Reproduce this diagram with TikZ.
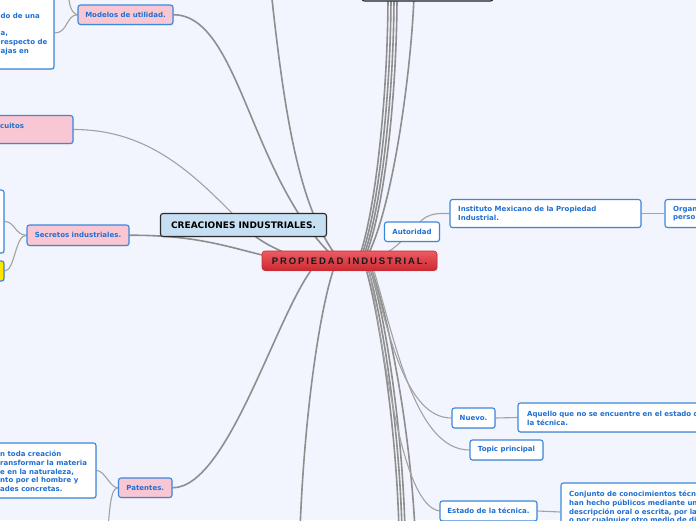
\documentclass[tikz,border=0pt]{standalone}
\usepackage{fontspec}
\newfontfamily\dvsans{DejaVu Sans}
\newfontfamily\propfont{Liberation Sans}[LetterSpace=20]
\usetikzlibrary{shadows}
\definecolor{bgc}{HTML}{F2F5FE}
\definecolor{btext}{HTML}{1F6FD2}
\definecolor{bborder}{HTML}{3C87DB}
\definecolor{pinkf}{HTML}{F9C7D3}
\definecolor{lblue}{HTML}{C6DFF2}
\definecolor{darkb}{HTML}{2B2B2B}
\definecolor{yell}{HTML}{FFE600}
\definecolor{redtop}{HTML}{EF5B62}
\definecolor{redbot}{HTML}{C92A33}
\definecolor{lgray}{HTML}{8E8E8E}
\definecolor{lgrayb}{HTML}{A2A2A2}
\newcommand\boxfont{\dvsans\bfseries\fontsize{7}{8.7}\selectfont}
\pgfdeclarelayer{backdrop}
\pgfdeclarelayer{lines}
\pgfsetlayers{backdrop,lines,main}
\begin{document}
\begin{tikzpicture}[x=1pt,y=-1pt,
  box/.style={rounded corners=2.5pt, line width=1.1pt, inner sep=0pt, font=\boxfont, text=btext,
    drop shadow={opacity=0.22,shadow xshift=0.7pt,shadow yshift=-0.9pt}},
  pinkbox/.style={box, draw=bborder, fill=pinkf},
  whitebox/.style={box, draw=bborder, fill=white},
  yellowbox/.style={box, draw=bborder, fill=yell},
  darkbox/.style={box, draw=darkb, fill=lblue, text=black, font=\dvsans\bfseries\fontsize{9}{11}\selectfont},
  propbox/.style={rounded corners=3pt, inner sep=0pt, top color=redtop, bottom color=redbot, draw=redbot, line width=0.6pt,
    text=black!90, font=\propfont\bfseries\fontsize{9.5}{11}\selectfont,
    drop shadow={opacity=0.22,shadow xshift=0.7pt,shadow yshift=-0.9pt}},
  txt/.style={inner sep=0pt, align=left, font=\boxfont, text=btext},
  mainl/.style={draw=lgray, line width=1.6pt},
  subl/.style={draw=lgrayb, line width=1.1pt}]
\begin{pgfonlayer}{backdrop}
\fill[bgc] (0,0) rectangle (696,520);
\end{pgfonlayer}
\useasboundingbox (0,0) rectangle (696,520);
\begin{scope}
\clip (0,0) rectangle (696,520);
% nodes
\node[pinkbox, minimum width=95pt, minimum height=19.5pt] (mod) at (125.5,14.75) {Modelos de utilidad.};
\node[whitebox, minimum width=134pt, minimum height=72pt] (tlb) at (-13,33) {};
\node[txt, anchor=north west] (tlt) at (0.5,12.8) {do de una\\\mbox{}\\a,\\respecto de\\ajas en};
\node[pinkbox, minimum width=120pt, minimum height=28pt] (circ) at (13,129.5) {};
\node[txt, anchor=north west] (circt) at (0,122.7) {cuitos};
\node[pinkbox, minimum width=102pt, minimum height=20.5pt] (sec) at (78,235.25) {Secretos industriales.};
\node[whitebox, minimum width=84pt, minimum height=63pt] (wsec) at (-38,221.5) {};
\node[yellowbox, minimum width=44pt, minimum height=20pt] (ysec) at (-18,271) {};
\node[darkbox, minimum width=166pt, minimum height=23pt] (crea) at (243.5,225) {CREACIONES INDUSTRIALES.};
\node[propbox, minimum width=175pt, minimum height=19.5pt] (prop) at (349.5,260.75) {PROPIEDAD INDUSTRIAL.};
\node[darkbox, minimum width=131pt, minimum height=26pt] (topbox) at (427.5,-12) {};
\node[whitebox, minimum width=55pt, minimum height=19.5pt] (aut) at (412,231.75) {Autoridad};
\node[whitebox, minimum width=191pt, minimum height=28pt] (imp) at (545.5,213.5) {};
\node[txt, anchor=north west] (impt) at (458,205.8) {Instituto Mexicano de la Propiedad\\Industrial.};
\node[whitebox, minimum width=100pt, minimum height=28pt] (org) at (715,213.5) {};
\node[txt, anchor=north west] (orgt) at (673,205.8) {Organ\\perso};
\node[whitebox, minimum width=43pt, minimum height=20pt] (nuevo) at (473.5,418) {Nuevo.};
\node[whitebox, minimum width=262pt, minimum height=29pt] (aq) at (649,417.5) {};
\node[txt, anchor=north west] (aqt) at (527,410.8) {Aquello que no se encuentre en el estado d\\la técnica.};
\node[whitebox, minimum width=73pt, minimum height=20pt] (topic) at (506.5,450) {Topic principal};
\node[whitebox, minimum width=97pt, minimum height=20pt] (est) at (488.5,511) {Estado de la técnica.};
\node[whitebox, minimum width=239pt, minimum height=58pt] (conj) at (680.5,512) {};
\node[txt, anchor=north west] (conjt) at (569,490.8) {Conjunto de conocimientos técni\\han hecho públicos mediante un\\descripción oral o escrita, por la\\o por cualquier otro medio de di};
\node[whitebox, minimum width=246pt, minimum height=55pt] (patdef) at (-27,470.5) {};
\node[txt, anchor=north west] (patdeft) at (0,450.8) {n toda creación\\ransformar la materia\\e en la naturaleza,\\nto por el hombre y\\ades concretas.};
\node[pinkbox, minimum width=53.5pt, minimum height=19.5pt] (pat) at (145.25,487.75) {Patentes.};
\end{scope}
% coordinates
\coordinate (modup) at (67,-10);
\coordinate (topA) at (271,-10);
\coordinate (patdn) at (108,530);
\coordinate (botA) at (300,530);
\coordinate (br1) at (399,530);
\coordinate (br2) at (402,530);
\coordinate (br3) at (405,530);
\coordinate (br4) at (415,530);
\coordinate (tb1) at (388,-5);
\coordinate (tb2) at (391,-5);
\coordinate (tb3) at (394,-5);
\coordinate (tb4) at (397,-5);
\coordinate (tb5) at (414,-5);
\coordinate (pa1) at (335,258);
\coordinate (pa2) at (338,258);
\coordinate (pa3) at (275,258);
\coordinate (pa4) at (300,258);
\coordinate (pa5) at (318,262);
\coordinate (pa6) at (380,256);
\coordinate (pb1) at (335,265);
\coordinate (pb2) at (365,265);
\coordinate (pb3) at (367,265);
\coordinate (pb4) at (369,265);
\coordinate (pb5) at (370,265);
\coordinate (pb6) at (372,264);
\coordinate (pb7) at (368,265);
\coordinate (pt1) at (360,255);
\coordinate (pt2) at (362,255);
\coordinate (pt3) at (364,255);
\coordinate (pt4) at (366,255);
\coordinate (pt5) at (368,255);
\begin{pgfonlayer}{lines}
\begin{scope}
\clip (0,0) rectangle (696,520);
\draw[mainl] (mod.east) .. controls (240,15) and (250,180) .. (pa1);
\draw[mainl] (topA) .. controls (285,120) and (300,210) .. (pa2);
\draw[subl] (circ.east) .. controls (150,129.5) and (195,175) .. (crea.center);
\draw[mainl] (sec.east) .. controls (200,235) and (230,248) .. (pa3);
\draw[mainl] (crea.center) .. controls (255,240) and (280,252) .. (pa4);
\draw[mainl] (pat.east) .. controls (230,488) and (280,300) .. (pa5);
\draw[subl] (pat.west) .. controls (110,488) and (105,470.5) .. (patdef.east);
\draw[subl] (pat.west) .. controls (112,488) and (110,500) .. (patdn);
\draw[mainl] (pb1) .. controls (322,300) and (305,400) .. (botA);
\draw[mainl] (pb2) .. controls (378,310) and (396,420) .. (br1);
\draw[mainl] (pb3) .. controls (381,310) and (399,420) .. (br2);
\draw[mainl] (pb4) .. controls (384,310) and (402,420) .. (br3);
\draw[mainl] (pb5) .. controls (390,320) and (410,430) .. (br4);
\draw[subl] (pb5) .. controls (388,330) and (405,418) .. (nuevo.west);
\draw[subl] (pb6) .. controls (395,340) and (415,450) .. (topic.west);
\draw[subl] (pb7) .. controls (385,350) and (400,505) .. (est.west);
\draw[subl] (pa6) .. controls (392,250) .. (aut.center);
\draw[subl] (aut.center) .. controls (425,212) and (435,213.5) .. (imp.west);
\draw[subl] (imp.east) -- (org.west);
\draw[subl] (nuevo.east) -- (aq.west);
\draw[subl] (est.east) -- (conj.west);
\draw[mainl] (pt1) .. controls (378,200) and (388,80) .. (tb1);
\draw[mainl] (pt2) .. controls (381,200) and (391,80) .. (tb2);
\draw[mainl] (pt3) .. controls (384,200) and (394,80) .. (tb3);
\draw[mainl] (pt4) .. controls (387,200) and (397,80) .. (tb4);
\draw[mainl] (pt5) .. controls (395,200) and (412,60) .. (tb5);
\draw[subl] (mod.west) .. controls (66,15) and (68,33) .. (tlb.east);
\draw[subl] (mod.west) .. controls (70,12) and (70,5) .. (modup);
\draw[subl] (sec.west) .. controls (15,235) and (15,221.5) .. (wsec.east);
\draw[subl] (sec.west) .. controls (15,235) and (15,271) .. (ysec.east);
\end{scope}
\end{pgfonlayer}
\end{tikzpicture}
\end{document}
